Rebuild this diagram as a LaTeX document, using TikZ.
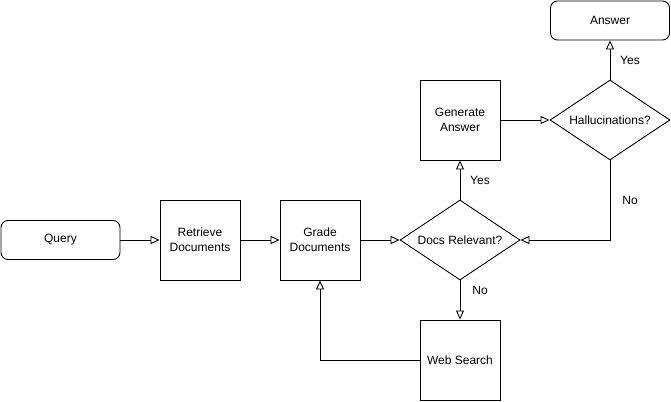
\documentclass[tikz,border=0pt]{standalone}
\usepackage{fontspec}
\setmainfont{Liberation Sans}
\usetikzlibrary{arrows.meta,shapes.geometric}
\begin{document}
\begin{tikzpicture}[x=1pt,y=-1pt,
  every node/.style={font=\fontsize{12}{15}\selectfont, align=center, inner sep=0pt},
  box/.style={draw, line width=0.9pt, minimum width=80pt, minimum height=80pt},
  term/.style={draw, line width=0.9pt, rounded corners=7pt, minimum width=119pt, minimum height=39pt},
  dec/.style={draw, line width=0.9pt, diamond, aspect=1.5, minimum width=120pt, minimum height=80pt},
  flow/.style={draw, line width=0.9pt, -{Triangle[open, length=9pt, width=8pt]}},
  lab/.style={font=\fontsize{12}{15}\selectfont}
]
\useasboundingbox (0,0) rectangle (671,401);
\node[term] (query) at (60.5,240) {Query};
\node[box] (retrieve) at (200,240) {Retrieve\\Documents};
\node[box] (grade) at (320,240) {Grade\\Documents};
\node[dec] (rel) at (460,240) {Docs Relevant?};
\node[box] (gen) at (460,120) {Generate\\Answer};
\node[dec] (hall) at (610,120) {Hallucinations?};
\node[term] (answer) at (610,20.5) {Answer};
\node[box] (web) at (460,360) {Web Search};
\coordinate (c1) at (320,360);
\coordinate (c2) at (610,240);

\draw[flow] (query) -- (retrieve);
\draw[flow] (retrieve) -- (grade);
\draw[flow] (grade) -- (rel);
\draw[flow] (rel) -- (gen);
\draw[flow] (rel) -- (web);
\draw[flow] (web.west) -- (c1) -- (grade.south);
\draw[flow] (gen) -- (hall);
\draw[flow] (hall) -- (answer);
\draw[flow] (hall.south) -- (c2) -- (rel.east);

\node[lab] (yes1) at (480,180) {Yes};
\node[lab] (no1) at (480,290) {No};
\node[lab] (yes2) at (630,60) {Yes};
\node[lab] (no2) at (630,200) {No};
\end{tikzpicture}
\end{document}
